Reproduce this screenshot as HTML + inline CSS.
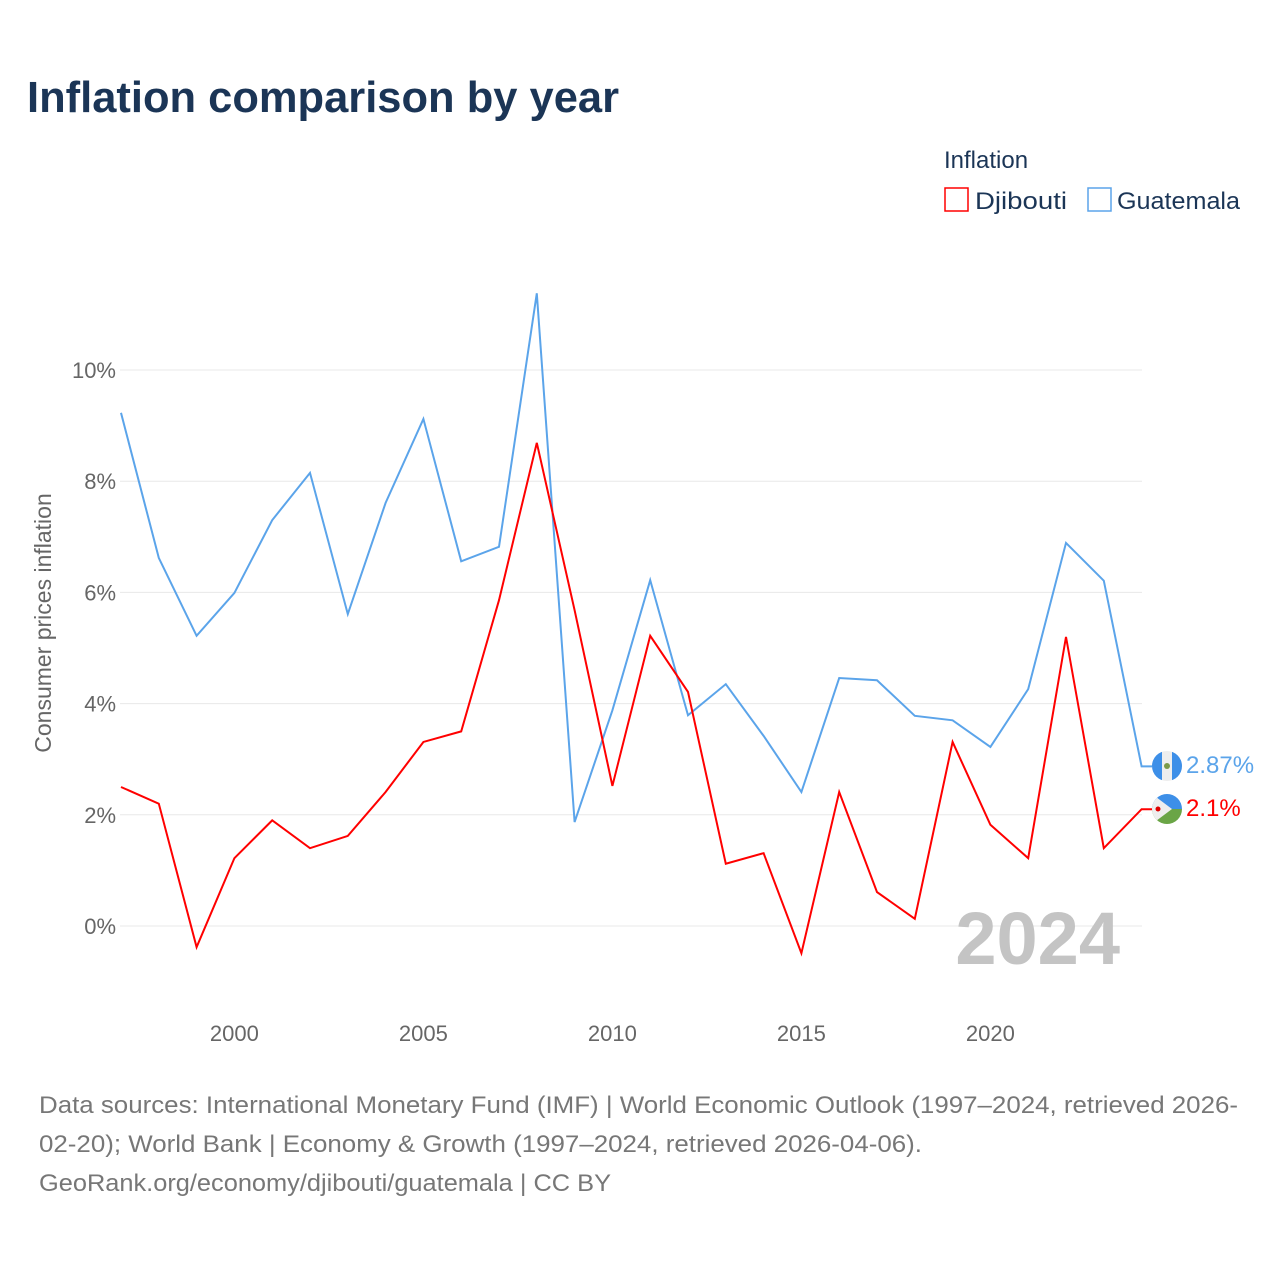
<!DOCTYPE html>
<html><head><meta charset="utf-8"><style>
body{margin:0;width:1280px;height:1280px;background:#fff;font-family:"Liberation Sans",sans-serif;overflow:hidden}
svg text{font-family:"Liberation Sans",sans-serif}
</style></head><body>
<svg id="chart" width="1280" height="1280" xmlns="http://www.w3.org/2000/svg">
<text x="27" y="112" font-size="44" font-weight="bold" fill="#1b3556" textLength="592" lengthAdjust="spacingAndGlyphs">Inflation comparison by year</text>
<text x="944" y="168" font-size="24" fill="#1b3556">Inflation</text>
<g><rect x="945" y="188" width="23" height="23" fill="none" stroke="#ff0000" stroke-width="1.5"/><text x="975" y="209" font-size="24" fill="#1b3556" textLength="92" lengthAdjust="spacingAndGlyphs">Djibouti</text></g>
<g><rect x="1088" y="188" width="23" height="23" fill="none" stroke="#5ba4ea" stroke-width="1.5"/><text x="1117" y="209" font-size="24" fill="#1b3556" textLength="123" lengthAdjust="spacingAndGlyphs">Guatemala</text></g>
<text transform="translate(51,623) rotate(-90)" text-anchor="middle" font-size="23" fill="#666">Consumer prices inflation</text>
<g id="grid"></g><g id="xt"></g>
<text x="1120" y="964" text-anchor="end" font-size="74" font-weight="bold" fill="#c4c4c4">2024</text>
<g id="lines"></g>
<g>
<clipPath id="cg"><circle cx="1167" cy="766" r="15"/></clipPath>
<g clip-path="url(#cg)"><rect x="1152" y="751" width="30" height="30" fill="#eee"/><rect x="1152" y="751" width="10" height="30" fill="#3d8fe8"/><rect x="1172" y="751" width="10" height="30" fill="#3d8fe8"/><circle cx="1167" cy="766" r="3" fill="#7a9a4a"/></g></g>
<g>
<clipPath id="cd"><circle cx="1167" cy="809" r="15"/></clipPath>
<g clip-path="url(#cd)"><rect x="1152" y="794" width="30" height="15" fill="#3d8fe8"/><rect x="1152" y="809" width="30" height="15" fill="#6aa546"/><polygon points="1152,794 1172,809 1152,824" fill="#eee"/><circle cx="1158" cy="809" r="2.5" fill="#d00"/></g></g>
<text x="1186" y="773" font-size="24" fill="#5ba4ea">2.87%</text>
<text x="1186" y="816" font-size="24" fill="#ff0000">2.1%</text>
<text font-size="24" fill="#777"><tspan x="39" y="1113" textLength="1199" lengthAdjust="spacingAndGlyphs">Data sources: International Monetary Fund (IMF) | World Economic Outlook (1997–2024, retrieved 2026-</tspan><tspan x="39" y="1152" textLength="883" lengthAdjust="spacingAndGlyphs">02-20); World Bank | Economy &amp; Growth (1997–2024, retrieved 2026-04-06).</tspan><tspan x="39" y="1191" textLength="572" lengthAdjust="spacingAndGlyphs">GeoRank.org/economy/djibouti/guatemala | CC BY</tspan></text>
</svg>
<script>
const years=[1997,1998,1999,2000,2001,2002,2003,2004,2005,2006,2007,2008,2009,2010,2011,2012,2013,2014,2015,2016,2017,2018,2019,2020,2021,2022,2023,2024];
const guatemala=[9.23,6.62,5.22,5.99,7.30,8.15,5.61,7.61,9.12,6.56,6.82,11.38,1.87,3.88,6.22,3.79,4.35,3.42,2.41,4.46,4.42,3.78,3.70,3.22,4.26,6.89,6.21,2.87];
const djibouti=[2.5,2.2,-0.38,1.22,1.9,1.4,1.62,2.41,3.31,3.5,5.86,8.69,5.68,2.52,5.22,4.21,1.12,1.31,-0.49,2.41,0.61,0.13,3.31,1.82,1.22,5.2,1.4,2.1];
const yTicks=[0,2,4,6,8,10];
const xTicks=[2000,2005,2010,2015,2020];
const NS="http://www.w3.org/2000/svg";
const x=v=>121+(v-1997)*37.8;
const y=v=>926-v*55.6;
function mk(tag,attrs,parent){const e=document.createElementNS(NS,tag);for(const k in attrs)e.setAttribute(k,attrs[k]);parent.appendChild(e);return e;}
const grid=document.getElementById('grid'),xt=document.getElementById('xt'),lines=document.getElementById('lines');
yTicks.forEach(t=>{
 const l=mk('line',{x1:120,x2:1142,y1:y(t),y2:y(t),stroke:'#e8e8e8','stroke-width':1},grid);
 
 
 const tx=mk('text',{x:116,y:y(t)+8,'text-anchor':'end','font-size':22,fill:'#666'},grid);
 tx.textContent=t+'%';
 
 
});
xTicks.forEach(t=>{
 const tx=mk('text',{x:x(t),y:1041,'text-anchor':'middle','font-size':22,fill:'#666'},xt);
 tx.textContent=t;
 
 
});
function series(vals,color,name){
 const pts=vals.map((v,i)=>x(years[i])+','+y(v));
 const last=vals[vals.length-1];
 pts.push('1152,'+y(last));
 const p=mk('polyline',{points:pts.join(' '),fill:'none',stroke:color,'stroke-width':2,'stroke-linejoin':'miter'},lines);
 
 
}
series(guatemala,'#5ba4ea','guatemala-line');
series(djibouti,'#ff0000','djibouti-line');
</script>
</body></html>
